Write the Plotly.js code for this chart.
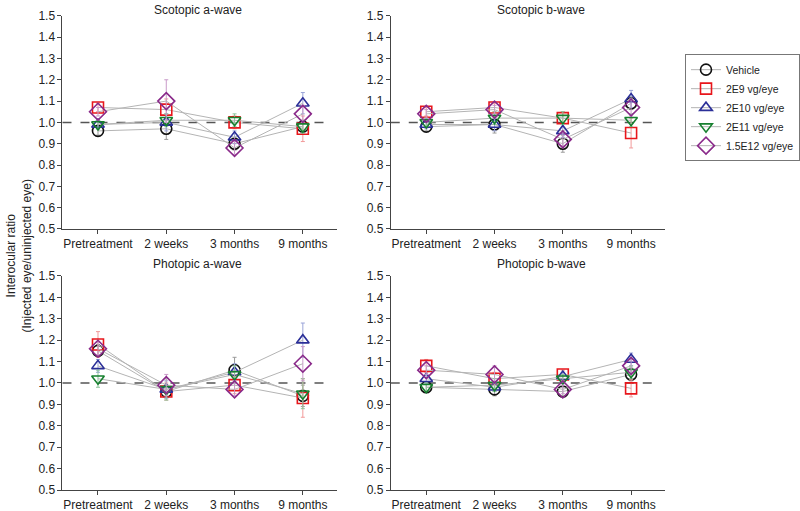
<!DOCTYPE html>
<html>
<head>
<meta charset="utf-8">
<script src="https://cdn.plot.ly/plotly-3.0.1.min.js"></script>
<style>
  html, body { margin: 0; padding: 0; background: #fff; }
  #chart { width: 800px; height: 511px; }
</style>
</head>
<body>
<div id="chart"></div>
<script>
// time points
const timepoints = ['Pretreatment', '2 weeks', '3 months', '9 months'];

const groups = ['Vehicle', '2E9 vg/eye', '2E10 vg/eye', '2E11 vg/eye', '1.5E12 vg/eye'];

const panelTitles = ['Scotopic a-wave', 'Scotopic b-wave', 'Photopic a-wave', 'Photopic b-wave'];

// ratio means, one array per group, per panel
const scotA_vehicle = [0.96, 0.97, 0.90, 0.98];
const scotA_2e9 = [1.07, 1.06, 1.00, 0.97];
const scotA_2e10 = [0.99, 1.00, 0.93, 1.09];
const scotA_2e11 = [0.99, 1.01, 1.01, 0.98];
const scotA_15e12 = [1.05, 1.10, 0.88, 1.04];

const scotB_vehicle = [0.98, 0.99, 0.90, 1.09];
const scotB_2e9 = [1.05, 1.07, 1.02, 0.95];
const scotB_2e10 = [0.99, 0.99, 0.96, 1.11];
const scotB_2e11 = [1.00, 1.02, 1.02, 1.01];
const scotB_15e12 = [1.04, 1.06, 0.92, 1.07];

const photA_vehicle = [1.15, 0.96, 1.06, 0.94];
const photA_2e9 = [1.18, 0.96, 0.99, 0.93];
const photA_2e10 = [1.08, 0.97, 1.05, 1.20];
const photA_2e11 = [1.02, 0.97, 1.04, 0.95];
const photA_15e12 = [1.16, 0.99, 0.97, 1.09];

const photB_vehicle = [0.98, 0.97, 0.96, 1.04];
const photB_2e9 = [1.08, 1.02, 1.04, 0.975];
const photB_2e10 = [1.02, 0.98, 1.03, 1.11];
const photB_2e11 = [0.98, 0.99, 1.02, 1.05];
const photB_15e12 = [1.06, 1.04, 0.97, 1.08];

// error bars (+/-)
const scotA_vehicle_err = [0.02, 0.05, 0.03, 0.03];
const scotA_2e9_err = [0.02, 0.05, 0.03, 0.06];
const scotA_2e10_err = [0.02, 0.04, 0.03, 0.05];
const scotA_2e11_err = [0.02, 0.03, 0.03, 0.03];
const scotA_15e12_err = [0.02, 0.10, 0.03, 0.04];

const scotB_vehicle_err = [0.02, 0.04, 0.04, 0.03];
const scotB_2e9_err = [0.02, 0.02, 0.03, 0.07];
const scotB_2e10_err = [0.02, 0.03, 0.03, 0.04];
const scotB_2e11_err = [0.02, 0.03, 0.03, 0.03];
const scotB_15e12_err = [0.02, 0.02, 0.03, 0.04];

const photA_vehicle_err = [0.03, 0.03, 0.06, 0.05];
const photA_2e9_err = [0.06, 0.04, 0.04, 0.09];
const photA_2e10_err = [0.03, 0.04, 0.04, 0.08];
const photA_2e11_err = [0.04, 0.05, 0.04, 0.07];
const photA_15e12_err = [0.03, 0.05, 0.03, 0.08];

const photB_vehicle_err = [0.02, 0.03, 0.02, 0.03];
const photB_2e9_err = [0.03, 0.03, 0.02, 0.04];
const photB_2e10_err = [0.02, 0.02, 0.02, 0.03];
const photB_2e11_err = [0.02, 0.03, 0.02, 0.03];
const photB_15e12_err = [0.02, 0.04, 0.02, 0.03];

const panelValues = [
  [scotA_vehicle, scotA_2e9, scotA_2e10, scotA_2e11, scotA_15e12],
  [scotB_vehicle, scotB_2e9, scotB_2e10, scotB_2e11, scotB_15e12],
  [photA_vehicle, photA_2e9, photA_2e10, photA_2e11, photA_15e12],
  [photB_vehicle, photB_2e9, photB_2e10, photB_2e11, photB_15e12]
];
const panelErrors = [
  [scotA_vehicle_err, scotA_2e9_err, scotA_2e10_err, scotA_2e11_err, scotA_15e12_err],
  [scotB_vehicle_err, scotB_2e9_err, scotB_2e10_err, scotB_2e11_err, scotB_15e12_err],
  [photA_vehicle_err, photA_2e9_err, photA_2e10_err, photA_2e11_err, photA_15e12_err],
  [photB_vehicle_err, photB_2e9_err, photB_2e10_err, photB_2e11_err, photB_15e12_err]
];

const symbols = ['circle-open', 'square-open', 'triangle-up-open', 'triangle-down-open', 'diamond-open'];
const colors = ['#111111', '#e8161b', '#2b2f98', '#17802f', '#8a2a8a'];
const errColors = ['#9a9a9a', '#f29a9a', '#9aa4d8', '#8cc49a', '#c99ac9'];

// pixel layout of the four panels
const xDomains = [[0.079, 0.426], [0.494, 0.841], [0.079, 0.426], [0.494, 0.841]];
const yDomains = [[0.552, 0.969], [0.552, 0.969], [0.041, 0.460], [0.041, 0.460]];

const data = [];
panelValues.forEach((series, p) => {
  series.forEach((vals, s) => {
    data.push({
      x: timepoints,
      y: vals,
      name: groups[s],
      showlegend: p === 0,
      type: 'scatter',
      mode: 'lines+markers',
      xaxis: 'x' + (p + 1),
      yaxis: 'y' + (p + 1),
      line: { color: '#b4b4b4', width: 1 },
      marker: {
        symbol: symbols[s],
        size: s === 4 ? 13 : 11,
        color: colors[s],
        line: { color: colors[s], width: 1.6 }
      },
      error_y: {
        type: 'data',
        array: panelErrors[p][s],
        color: errColors[s],
        thickness: 1,
        width: 2
      }
    });
  });
});

const layout = {
  width: 800,
  height: 511,
  margin: { l: 0, r: 0, t: 0, b: 0 },
  paper_bgcolor: '#fff',
  plot_bgcolor: '#fff',
  font: { family: 'Liberation Sans, Arial, sans-serif', size: 12, color: '#222' },
  showlegend: true,
  legend: {
    x: 0.866, y: 0.894, xanchor: 'left', yanchor: 'top',
    bordercolor: '#777', borderwidth: 1,
    font: { size: 10.5, color: '#222' },
    tracegroupgap: 0,
    itemwidth: 30
  },
  shapes: [],
  annotations: []
};

for (let p = 0; p < 4; p++) {
  const k = p + 1;
  layout['xaxis' + k] = {
    domain: xDomains[p],
    anchor: 'y' + k,
    type: 'category',
    categoryorder: 'array',
    categoryarray: timepoints,
    range: [-0.52, 3.5],
    showline: true, linecolor: '#444', linewidth: 1,
    ticks: 'outside', ticklen: 4, tickcolor: '#444',
    showgrid: false, zeroline: false,
    tickfont: { size: 12, color: '#222' }
  };
  layout['yaxis' + k] = {
    domain: yDomains[p],
    anchor: 'x' + k,
    range: [0.5, 1.5],
    dtick: 0.1,
    tickformat: '.1f',
    showline: true, linecolor: '#444', linewidth: 1,
    ticks: 'outside', ticklen: 4, tickcolor: '#444',
    showgrid: false, zeroline: false,
    tickfont: { size: 12, color: '#222' }
  };
  // reference line at ratio 1.0
  layout.shapes.push({
    type: 'line', xref: 'x' + k + ' domain', yref: 'y' + k,
    x0: 0, x1: 0.97, y0: 1, y1: 1,
    line: { color: '#555', width: 1.5, dash: 'dash' },
    layer: 'below'
  });
  layout.annotations.push({
    text: panelTitles[p],
    xref: 'paper', yref: 'paper',
    x: [0.25, 0.684, 0.25, 0.684][p],
    y: [0.98, 0.98, 0.484, 0.484][p],
    xanchor: 'center', yanchor: 'middle',
    showarrow: false,
    font: { size: 12, color: '#222' }
  });
}

layout.annotations.push({
  text: 'Interocular ratio<br>(Injected eye/uninjected eye)',
  xref: 'paper', yref: 'paper',
  x: 0.024, y: 0.5,
  textangle: -90,
  xanchor: 'center', yanchor: 'middle',
  showarrow: false,
  font: { size: 12, color: '#222' }
});

Plotly.newPlot('chart', data, layout, { displayModeBar: false, staticPlot: true });
</script>
</body>
</html>
